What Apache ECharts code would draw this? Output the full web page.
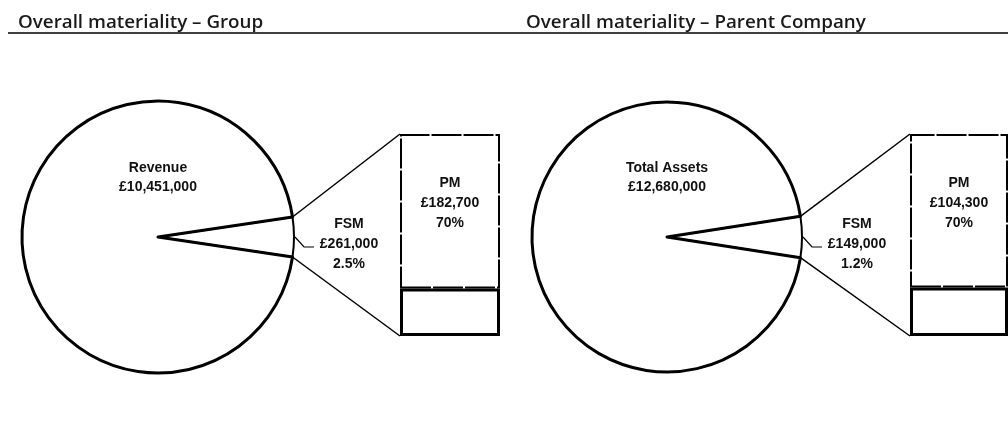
<!DOCTYPE html>
<html>
<head>
<meta charset="utf-8">
<script src="https://cdn.jsdelivr.net/npm/echarts@6/dist/echarts.min.js"></script>
<style>
html, body { margin: 0; background: #fff; }
#main { width: 1008px; height: 439px; }
</style>
</head>
<body>
<div id="main"></div>
<script>
// data
var titles = ['Overall materiality – Group', 'Overall materiality – Parent Company'];
var baseNames = ['Revenue', 'Total Assets'];
var baseValues = ['£10,451,000', '£12,680,000'];
var fsmValues = ['£261,000', '£149,000'];
var fsmPercents = ['2.5%', '1.2%'];
var pmValues = ['£182,700', '£104,300'];
var pmPercents = ['70%', '70%'];
// share of the circle taken by the FSM wedge, as drawn (%)
var wedgeShare = [4.7, 4.9];
// box split as drawn: lower part / PM part (%)
var boxLower = [23.5, 24];
var boxUpper = [76.5, 76];

var chart = echarts.init(document.getElementById('main'));

var pieCenters = [[158, 237], [667, 237]];
var pieRadius = [136, 135];
var gridLeft = [400, 910];
var gridWidth = [100, 104];
var labelFont = 'Liberation Sans, Arial, sans-serif';
var titleStyle = { fontFamily: 'Open Sans', fontSize: 18.8, fontWeight: 600, color: '#1a1a1a' };

var series = [];
var grids = [], xAxes = [], yAxes = [];

for (let i = 0; i < 2; i++) {
    series.push({
        type: 'pie',
        silent: true,
        animation: false,
        center: pieCenters[i],
        radius: pieRadius[i],
        startAngle: wedgeShare[i] * 3.6 / 2,
        clockwise: true,
        data: [
            {
                name: 'FSM',
                value: wedgeShare[i],
                itemStyle: { color: '#fff', borderColor: '#000', borderWidth: 2 },
                label: {
                    show: true,
                    position: 'outside',
                    formatter: '{a|FSM}\n{a|' + fsmValues[i] + '}\n{a|' + fsmPercents[i] + '}',
                    rich: {
                        a: { width: 60, align: 'center', fontFamily: labelFont, fontSize: 14, fontWeight: 'bold', color: '#111', lineHeight: 20 }
                    }
                },
                // drawn below as a bent leader, kept here for spacing only
                labelLine: { show: true, length: 10, length2: 10, lineStyle: { opacity: 0 } }
            },
            {
                name: baseNames[i],
                value: 100 - wedgeShare[i],
                itemStyle: { color: '#fff', borderColor: '#000', borderWidth: 3 },
                label: {
                    show: true,
                    position: 'center',
                    offset: [0, -59],
                    formatter: baseNames[i] + '\n' + baseValues[i],
                    fontFamily: labelFont,
                    fontSize: 14,
                    fontWeight: 'bold',
                    color: '#111',
                    lineHeight: 19
                },
                labelLine: { show: false }
            }
        ],
        labelLayout: function (params) {
            if (params.dataIndex === 0) {
                return { dy: 3.5 };
            }
            return {};
        }
    });

    grids.push({ left: gridLeft[i], top: 134, width: gridWidth[i], height: 202 });
    xAxes.push({ type: 'category', gridIndex: i, data: ['PM'], show: false });
    yAxes.push({ type: 'value', gridIndex: i, min: 0, max: 100, show: false });

    series.push({
        type: 'bar',
        silent: true,
        animation: false,
        xAxisIndex: i,
        yAxisIndex: i,
        stack: 'box' + i,
        barWidth: '100%',
        data: [boxLower[i]],
        itemStyle: { color: '#fff', borderColor: '#000', borderWidth: 3 }
    });
    series.push({
        type: 'bar',
        silent: true,
        animation: false,
        xAxisIndex: i,
        yAxisIndex: i,
        stack: 'box' + i,
        barWidth: '100%',
        data: [boxUpper[i]],
        itemStyle: { color: '#fff', borderColor: '#000', borderWidth: 2, borderType: [30, 2] },
        label: {
            show: true,
            position: 'insideTop',
            distance: 39,
            formatter: 'PM\n' + pmValues[i] + '\n' + pmPercents[i],
            fontFamily: labelFont,
            fontSize: 14,
            fontWeight: 'bold',
            color: '#111',
            lineHeight: 20
        }
    });
}

var option = {
    backgroundColor: '#fff',
    title: [
        { text: titles[0], left: 13, top: 8, textStyle: titleStyle },
        { text: titles[1], left: 521, top: 8, textStyle: titleStyle }
    ],
    grid: grids,
    xAxis: xAxes,
    yAxis: yAxes,
    series: series
};

chart.setOption(option);

// underline, leaders and connector lines, all worked out from the layout above
var graphics = [
    { type: 'line', silent: true, shape: { x1: 8, y1: 33, x2: 1008, y2: 33 }, style: { stroke: '#000', lineWidth: 1.5 } }
];
for (let i = 0; i < 2; i++) {
    var half = wedgeShare[i] * 3.6 / 2 * Math.PI / 180;
    var cx = pieCenters[i][0], cy = pieCenters[i][1], r = pieRadius[i];
    var ex = cx + r * Math.cos(half);
    var boxTop = chart.convertToPixel({ yAxisIndex: i }, boxLower[i] + boxUpper[i]);
    var boxBottom = chart.convertToPixel({ yAxisIndex: i }, 0);
    graphics.push({ type: 'line', silent: true, shape: { x1: ex, y1: cy - r * Math.sin(half), x2: gridLeft[i], y2: boxTop }, style: { stroke: '#000', lineWidth: 1.5 } });
    graphics.push({ type: 'line', silent: true, shape: { x1: ex, y1: cy + r * Math.sin(half), x2: gridLeft[i], y2: boxBottom }, style: { stroke: '#000', lineWidth: 1.5 } });
    graphics.push({
        type: 'polyline', silent: true,
        shape: { points: [[cx + r + 1, cy], [cx + r + 10, cy + 10], [cx + r + 20, cy + 10]] },
        style: { stroke: '#000', lineWidth: 1.2, fill: null }
    });
}
chart.setOption({ graphic: graphics });

window.addEventListener('resize', function () {
    chart.resize();
});
</script>
</body>
</html>
